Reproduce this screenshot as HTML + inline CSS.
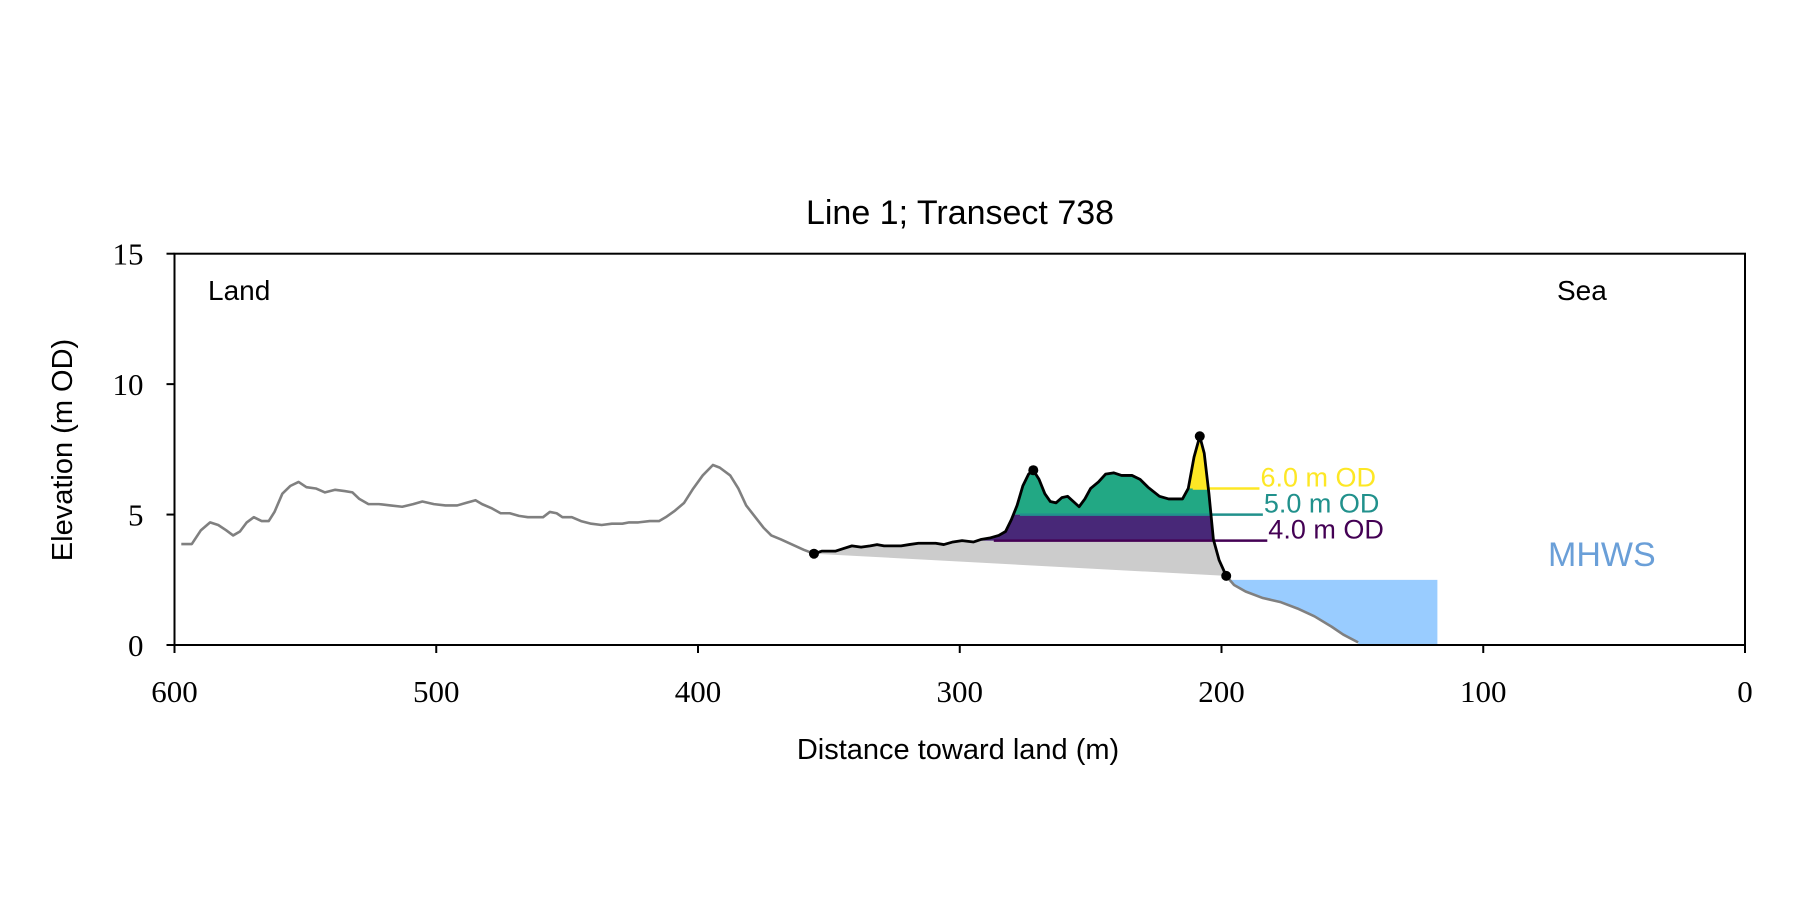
<!DOCTYPE html>
<html><head><meta charset="utf-8"><style>
html,body{margin:0;padding:0;background:#fff}
svg{display:block}
text{font-family:"Liberation Sans","DejaVu Sans",sans-serif}
.tick{font-family:"Liberation Serif",serif;font-size:31px}
</style></head><body>
<svg id="chart" width="1800" height="900" viewBox="0 0 1800 900">
<defs>
<clipPath id="duneClip"><polygon id="duneClipPoly" points=""/></clipPath>
<clipPath id="mhwsClip"><rect id="mhwsClipRect" x="0" y="0" width="0" height="0"/></clipPath>
</defs>
<g id="plot"></g>
<text x="960" y="224" font-size="34" text-anchor="middle">Line 1; Transect 738</text>
<text x="958" y="759" font-size="29" text-anchor="middle">Distance toward land (m)</text>
<text transform="translate(72,450) rotate(-90)" font-size="29" text-anchor="middle">Elevation (m OD)</text>
<text x="208" y="300" font-size="28">Land</text>
<text x="1557" y="300" font-size="28">Sea</text>
</svg>
<script>
const landD=[597.4,593.4,589.9,586.4,583.3,580.3,577.6,575,572.4,569.7,566.7,564,561.8,558.8,555.7,552.6,549.6,546,542.5,538.6,535,532,529.4,525.9,521.9,517.5,513,508.8,505.3,500.9,496.5,492,488.6,485,482.5,479,475.4,471.9,468.4,465,461.4,459.2,456.6,454,451.8,448.2,444.7,440.8,436.8,432.9,428.9,426.3,422.8,418.4,414.9,412.3,408.8,405.3,401.8,398.2,394.3,391.7,387.7,384.6,381.6,378.1,375,372,368.4,364,359.6,355.7];
const landE=[3.87,3.87,4.4,4.7,4.6,4.4,4.2,4.35,4.7,4.9,4.75,4.75,5.1,5.8,6.1,6.25,6.05,6.0,5.85,5.95,5.9,5.85,5.6,5.4,5.4,5.35,5.3,5.4,5.5,5.4,5.35,5.35,5.45,5.55,5.4,5.25,5.05,5.05,4.95,4.9,4.9,4.9,5.1,5.05,4.9,4.9,4.75,4.65,4.6,4.65,4.65,4.7,4.7,4.75,4.75,4.9,5.15,5.45,6.0,6.5,6.9,6.8,6.5,6.0,5.35,4.9,4.5,4.2,4.05,3.85,3.65,3.5];
const duneD=[355.7,352.6,347.4,344.3,341.2,337.7,334.2,331.6,328.9,325.9,322.4,319.3,315.8,312.3,309.2,306.1,302.6,299.1,294.7,291.7,288.6,285.1,282.5,280.3,278.1,275.9,273.7,271.9,269.7,267.5,265.4,263.2,261,258.8,256.6,254.4,252.2,250,247,244.3,241.2,238.2,234.2,231.1,228.1,223.7,220.2,216.2,214.9,212.7,210.5,208.3,206.6,204.8,203.1,200.9,198.2];
const duneE=[3.5,3.6,3.6,3.7,3.8,3.75,3.8,3.85,3.8,3.8,3.8,3.85,3.9,3.9,3.9,3.85,3.95,4.0,3.95,4.05,4.1,4.2,4.35,4.8,5.35,6.1,6.55,6.7,6.35,5.8,5.5,5.45,5.65,5.7,5.5,5.3,5.6,6.0,6.25,6.55,6.6,6.5,6.5,6.35,6.05,5.7,5.6,5.6,5.6,6.0,7.2,8.0,7.35,5.8,4.05,3.25,2.65];
const seaD=[198.2,195.2,190.8,184.2,177.6,171,164.5,157.9,153.5,147.8];
const seaE=[2.65,2.3,2.05,1.8,1.65,1.4,1.1,0.7,0.4,0.1];
const markerD=[355.7,271.9,208.3,198.2];
const markerE=[3.5,6.7,8.0,2.65];
const levels=[4.0,5.0,6.0];
const levelLabels=["4.0 m OD","5.0 m OD","6.0 m OD"];
const levelStart=[287,277,211];
const levelEnd=[182.5,184.2,185.5];
const peakBandStart=214;
const mhws=2.5;
const mhwsEnd=117.5;
const xTicks=[600,500,400,300,200,100,0];
const yTicks=[0,5,10,15];

const L=174.5,R=1745,T=253.7,B=645;
const sx=d=>L+(600-d)*(R-L)/600;
const sy=e=>B-e*(B-T)/15;
const NS="http://www.w3.org/2000/svg";
const plot=document.getElementById('plot');
function mk(tag,attrs){const el=document.createElementNS(NS,tag);for(const k in attrs)el.setAttribute(k,attrs[k]);plot.appendChild(el);return el;}
const pts=(D,E)=>D.map((d,i)=>sx(d)+','+sy(E[i])).join(' ');

document.getElementById('duneClipPoly').setAttribute('points',pts(duneD,duneE));
const bandLo=[-5,levels[0],levels[1],levels[2]];
const bandHi=[levels[0],levels[1],20,20];
const bandCol=['#cccccc','#482878','#22a884','#fde725'];
const bandNames=['band-below-4m','band-4-5m','band-5-6m','band-above-6m'];
bandLo.forEach((lo,i)=>{
  const x0=i===3?sx(peakBandStart):L;
  const r=mk('rect',{x:x0,y:sy(bandHi[i]),width:R-x0,height:sy(lo)-sy(bandHi[i]),fill:bandCol[i],'clip-path':'url(#duneClip)'});
  
  
});
const cr=document.getElementById('mhwsClipRect');
cr.setAttribute('x',sx(seaD[0]));cr.setAttribute('y',sy(mhws));
cr.setAttribute('width',sx(mhwsEnd)-sx(seaD[0]));cr.setAttribute('height',sy(0)-sy(mhws)+2);
const mp=pts(seaD,seaE)+' '+sx(seaD[seaD.length-1])+','+sy(0)+' '+sx(mhwsEnd)+','+sy(0)+' '+sx(mhwsEnd)+','+sy(mhws)+' '+sx(seaD[0])+','+sy(mhws);
const mf=mk('polygon',{points:mp,fill:'#99ccff','clip-path':'url(#mhwsClip)'});


const lvCol=['#440154','#21918c','#fde725'];
levels.forEach((lv,i)=>{
  const ln=mk('line',{x1:sx(levelStart[i]),x2:sx(levelEnd[i]),y1:sy(lv),y2:sy(lv),stroke:lvCol[i],'stroke-width':2.5});
  
  
  const t=mk('text',{x:sx(levelEnd[i])+1,y:sy(lv)-2,fill:lvCol[i],'font-size':27});
  t.textContent=levelLabels[i];
  
  
});
const lp=mk('polyline',{points:pts(landD,landE),fill:'none',stroke:'#808080','stroke-width':2.6,'stroke-linejoin':'round'});


const sp=mk('polyline',{points:pts(seaD,seaE),fill:'none',stroke:'#808080','stroke-width':2.6,'stroke-linejoin':'round'});


const dp=mk('polyline',{points:pts(duneD,duneE),fill:'none',stroke:'#000','stroke-width':2.8,'stroke-linejoin':'round'});


markerD.forEach((d,i)=>{
  const c=mk('circle',{cx:sx(d),cy:sy(markerE[i]),r:5,fill:'#000'});
  
  
});
const mt=mk('text',{x:1548,y:566,fill:'#6a9fd8','font-size':34});
mt.textContent='MHWS';


const fr=mk('rect',{x:L,y:T,width:R-L,height:B-T,fill:'none',stroke:'#000','stroke-width':2});


xTicks.forEach(v=>{
  const tl=mk('line',{x1:sx(v),x2:sx(v),y1:B,y2:B+8,stroke:'#000','stroke-width':2});
  
  
  const t=mk('text',{x:sx(v),y:B+57,'text-anchor':'middle',class:'tick'});
  t.textContent=v;
  
  
});
yTicks.forEach(v=>{
  const tl=mk('line',{x1:L-8,x2:L,y1:sy(v),y2:sy(v),stroke:'#000','stroke-width':2});
  
  
  const t=mk('text',{x:L-31,y:sy(v)+11,'text-anchor':'end',class:'tick'});
  t.textContent=v;
  
  
});
</script>
</body></html>
